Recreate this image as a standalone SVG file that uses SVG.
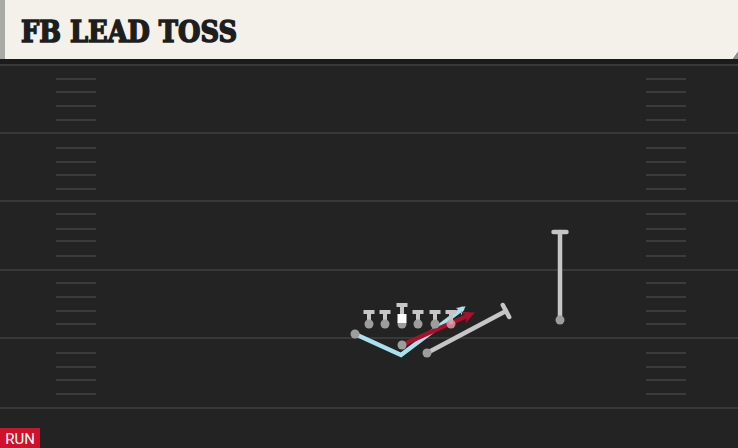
<svg xmlns="http://www.w3.org/2000/svg" width="738" height="448" viewBox="0 0 738 448">
<defs>
<style>
.yl{stroke:#383838;stroke-width:2}
.hm{stroke:#3b3b3b;stroke-width:2}
.rt{fill:none;stroke-width:4.5;stroke-linecap:round;stroke-linejoin:miter}
.gray{stroke:#c6c6c6}
.blk{stroke:#c6c6c6;stroke-width:4}
.dot{fill:#9d9d9d}
</style>
<marker id="ar" viewBox="0 0 10 10" refX="5" refY="5" markerWidth="2.8" markerHeight="2.8" orient="auto" markerUnits="strokeWidth">
<path d="M0,0 L10,5 L0,10 L3,5 Z" fill="#a8102c"/>
</marker>
<marker id="ab" viewBox="0 0 10 10" refX="5" refY="5" markerWidth="2" markerHeight="2" orient="auto" markerUnits="strokeWidth">
<path d="M0,0 L10,5 L0,10 L3,5 Z" fill="#a9e2ee"/>
</marker>
</defs>
<rect width="738" height="448" fill="#232323"/>
<g id="field">
<rect x="0" y="59" width="738" height="6" fill="#1b1b1b"/>
<line class="yl" x1="0" y1="65" x2="738" y2="65"/>
<line class="yl" x1="0" y1="133" x2="738" y2="133"/>
<line class="yl" x1="0" y1="201" x2="738" y2="201"/>
<line class="yl" x1="0" y1="270" x2="738" y2="270"/>
<line class="yl" x1="0" y1="338" x2="738" y2="338"/>
<line class="yl" x1="0" y1="408" x2="738" y2="408"/>
<g id="hashes-left">
<line class="hm" x1="56" y1="79" x2="96" y2="79"/><line class="hm" x1="56" y1="92" x2="96" y2="92"/><line class="hm" x1="56" y1="106" x2="96" y2="106"/><line class="hm" x1="56" y1="120" x2="96" y2="120"/>
<line class="hm" x1="56" y1="148" x2="96" y2="148"/><line class="hm" x1="56" y1="162" x2="96" y2="162"/><line class="hm" x1="56" y1="175" x2="96" y2="175"/><line class="hm" x1="56" y1="189" x2="96" y2="189"/>
<line class="hm" x1="56" y1="214" x2="96" y2="214"/><line class="hm" x1="56" y1="229" x2="96" y2="229"/><line class="hm" x1="56" y1="241" x2="96" y2="241"/><line class="hm" x1="56" y1="256" x2="96" y2="256"/>
<line class="hm" x1="56" y1="283" x2="96" y2="283"/><line class="hm" x1="56" y1="297" x2="96" y2="297"/><line class="hm" x1="56" y1="311" x2="96" y2="311"/><line class="hm" x1="56" y1="324" x2="96" y2="324"/>
<line class="hm" x1="56" y1="353" x2="96" y2="353"/><line class="hm" x1="56" y1="367" x2="96" y2="367"/><line class="hm" x1="56" y1="380" x2="96" y2="380"/><line class="hm" x1="56" y1="394" x2="96" y2="394"/>
</g>
<g id="hashes-right">
<line class="hm" x1="646" y1="79" x2="686" y2="79"/><line class="hm" x1="646" y1="92" x2="686" y2="92"/><line class="hm" x1="646" y1="106" x2="686" y2="106"/><line class="hm" x1="646" y1="120" x2="686" y2="120"/>
<line class="hm" x1="646" y1="148" x2="686" y2="148"/><line class="hm" x1="646" y1="162" x2="686" y2="162"/><line class="hm" x1="646" y1="175" x2="686" y2="175"/><line class="hm" x1="646" y1="189" x2="686" y2="189"/>
<line class="hm" x1="646" y1="214" x2="686" y2="214"/><line class="hm" x1="646" y1="229" x2="686" y2="229"/><line class="hm" x1="646" y1="241" x2="686" y2="241"/><line class="hm" x1="646" y1="256" x2="686" y2="256"/>
<line class="hm" x1="646" y1="283" x2="686" y2="283"/><line class="hm" x1="646" y1="297" x2="686" y2="297"/><line class="hm" x1="646" y1="311" x2="686" y2="311"/><line class="hm" x1="646" y1="324" x2="686" y2="324"/>
<line class="hm" x1="646" y1="353" x2="686" y2="353"/><line class="hm" x1="646" y1="367" x2="686" y2="367"/><line class="hm" x1="646" y1="380" x2="686" y2="380"/><line class="hm" x1="646" y1="394" x2="686" y2="394"/>
</g>
</g>
<g id="header">
<path d="M0,0 H738 V52 L733,59 H0 Z" fill="#f4f1ea"/>
<path d="M733,59 L738,52 V59 Z" fill="#8a8f96"/>
<rect x="0" y="0" width="5" height="59" fill="#a9aaa8"/>
<text x="21" y="42" font-family="'DejaVu Serif', 'Liberation Serif', serif" font-weight="bold" font-size="29" fill="#1e1e1e" stroke="#1e1e1e" stroke-width="1.6" stroke-linejoin="miter" textLength="216" lengthAdjust="spacingAndGlyphs">FB LEAD TOSS</text>
</g>
<g id="connectors">
<polyline class="rt" points="355,334 401,355 462,309" stroke="#a9e2ee" marker-end="url(#ab)"/>
<line class="rt" x1="402" y1="345" x2="469" y2="315" stroke="#a8102c" marker-end="url(#ar)"/>
<line class="rt gray" x1="427" y1="353" x2="506" y2="311"/>
<line class="rt gray" x1="502.8" y1="305" x2="509.2" y2="317"/>
<line class="rt gray" x1="560" y1="320" x2="560" y2="232"/>
<line class="rt gray" x1="553.5" y1="232" x2="566.5" y2="232"/>
</g>
<g id="lt"><line class="blk" x1="369" y1="324" x2="369" y2="312"/><line class="blk" x1="363.5" y1="312" x2="374.5" y2="312"/><circle class="dot" cx="369" cy="324" r="4.5"/></g>
<g id="lg"><line class="blk" x1="385" y1="324" x2="385" y2="312"/><line class="blk" x1="379.5" y1="312" x2="390.5" y2="312"/><circle class="dot" cx="385" cy="324" r="4.5"/></g>
<g id="c"><line class="blk" x1="402" y1="318" x2="402" y2="305"/><line class="blk" x1="396.5" y1="305" x2="407.5" y2="305"/><circle class="dot" cx="402" cy="324" r="4.5"/><rect x="397.5" y="314" width="9" height="9" fill="#ffffff"/></g>
<g id="rg"><line class="blk" x1="418" y1="324" x2="418" y2="312"/><line class="blk" x1="412.5" y1="312" x2="423.5" y2="312"/><circle class="dot" cx="418" cy="324" r="4.5"/></g>
<g id="rt"><line class="blk" x1="435" y1="324" x2="435" y2="312"/><line class="blk" x1="429.5" y1="312" x2="440.5" y2="312"/><circle class="dot" cx="435" cy="324" r="4.5"/></g>
<g id="te"><line class="blk" x1="451" y1="324" x2="451" y2="312"/><line class="blk" x1="445.5" y1="312" x2="456.5" y2="312"/><circle cx="451" cy="324" r="4.5" fill="#d99aa6" opacity="0.85"/></g>
<g id="qb"><circle class="dot" cx="355" cy="334" r="4.5"/></g>
<g id="fb"><circle class="dot" cx="402" cy="345" r="4.5"/></g>
<g id="rb"><circle class="dot" cx="427" cy="353" r="4.5"/></g>
<g id="wr"><circle class="dot" cx="560" cy="320" r="4.5"/></g>
<g id="tag">
<rect x="0" y="428" width="40" height="20" fill="#d0112b"/>
<text x="20" y="444" text-anchor="middle" font-family="Roboto, 'Liberation Sans', sans-serif" font-size="15" fill="#ffffff">RUN</text>
</g>
</svg>
